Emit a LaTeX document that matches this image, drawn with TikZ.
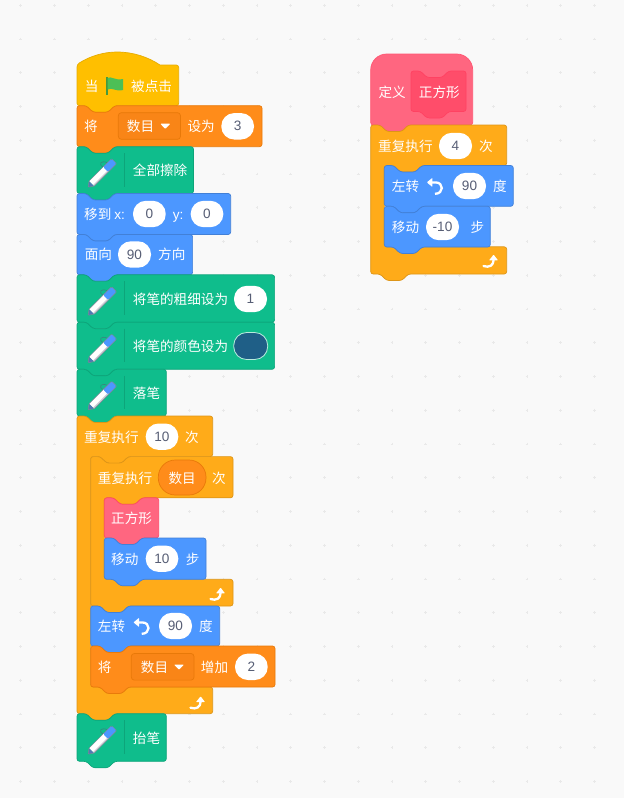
\documentclass[tikz,border=0pt]{standalone}
\usepackage{fontspec}
\setmainfont{Noto Sans CJK SC}
\newfontfamily\lat{Liberation Sans}
\definecolor{bgc}{HTML}{F9F9F9}
\definecolor{dotc}{HTML}{E9E9E9}
\definecolor{hatc}{HTML}{FFBF00}\definecolor{hats}{HTML}{E6AC00}
\definecolor{varc}{HTML}{FF8C1A}\definecolor{vars}{HTML}{DB6E00}\definecolor{vard}{HTML}{F98517}
\definecolor{penc}{HTML}{0FBD8C}\definecolor{pens}{HTML}{0DA57A}
\definecolor{motc}{HTML}{4C97FF}\definecolor{mots}{HTML}{4280D7}
\definecolor{ctlc}{HTML}{FFAB19}\definecolor{ctls}{HTML}{CF8B17}
\definecolor{proc}{HTML}{FF6680}\definecolor{pros}{HTML}{FF3355}\definecolor{prod}{HTML}{FF4D6A}
\definecolor{numc}{HTML}{575E75}
\definecolor{penblue}{HTML}{4C97FF}
\definecolor{flagc}{HTML}{4CBF56}\definecolor{flags}{HTML}{45993D}
\definecolor{swatch}{HTML}{1F5F87}
\newcounter{tn}
\tikzset{
  blk/.style={rounded corners=2.5pt,line width=.7pt,line join=round},
  hattop/.style={blk,draw=hats,fill=hatc},
  varb/.style={blk,draw=vars!60!varc,fill=varc},
  penb/.style={blk,draw=pens,fill=penc},
  motb/.style={blk,draw=mots,fill=motc},
  ctlb/.style={blk,draw=ctls!70!ctlc,fill=ctlc},
  prob/.style={blk,draw=pros!60!proc,fill=proc},
  lab/.style={text=white,inner sep=0pt,anchor=west,text height=10pt,text depth=2.5pt,yshift=-1.6pt,font=\fontsize{13.6}{16}\selectfont},
  num/.style={text=numc,inner sep=0pt,font=\lat\fontsize{13.6}{16}\selectfont},
  icon/.style={draw=white,line width=2.3pt},
  dotm/.style={draw=dotc,line width=.7pt},
}
\newcommand{\topN}[2]{({#1},{#2}) -- ({#1+9.3},{#2}) -- ({#1+16},{#2+6.5}) -- ({#1+31},{#2+6.5}) -- ({#1+37.7},{#2})}
\newcommand{\botN}[2]{-- ({#1+37.7},{#2}) -- ({#1+31},{#2+6.5}) -- ({#1+16},{#2+6.5}) -- ({#1+9.3},{#2})}
\newcommand{\blok}[5]{\draw[#1] \topN{#2}{#3} -- ({#4},{#3}) -- ({#4},{#5}) \botN{#2}{#5} -- ({#2},{#5}) -- cycle;}
\newcommand{\cblok}[8]{\draw[#1] \topN{#2}{#3} -- ({#4},{#3}) -- ({#4},{#5}) -- ({#6+37.7},{#5}) -- ({#6+31},{#5+6.5}) -- ({#6+16},{#5+6.5}) -- ({#6+9.3},{#5}) -- ({#6},{#5}) -- ({#6},{#7}) -- ({#6+9.3},{#7}) -- ({#6+16},{#7+6.5}) -- ({#6+31},{#7+6.5}) -- ({#6+37.7},{#7}) -- ({#4},{#7}) -- ({#4},{#8}) \botN{#2}{#8} -- ({#2},{#8}) -- cycle;}
\newcommand{\lbl}[3]{\stepcounter{tn}\node[lab] (t\thetn) at ({#1},{#2}) {#3};}
\newcommand{\pill}[4]{\fill[white,rounded corners=12.9pt] ({#1},{#3-13.2}) rectangle ({#2},{#3+13.2});\stepcounter{tn}\node[num] (t\thetn) at ({(#1+#2)/2},{#3}) {#4};}
\newcommand{\drop}[5]{\draw[draw=vars!65!varc,fill=vard,rounded corners=3pt,line width=.7pt] ({#1},{#3-13.3}) rectangle ({#2},{#3+13.3});\lbl{#4}{#3}{数目}\fill[white,rounded corners=.8pt] ({#5-5},{#3-2.3}) -- ({#5+5},{#3-2.3}) -- ({#5},{#3+3}) -- cycle;}
\newcommand{\turnl}[2]{\draw[icon] ({#1-3},{#2-3.6}) -- ({#1+.5},{#2-3.6}) .. controls ({#1+9},{#2-3.6}) and ({#1+9},{#2+7.8}) .. ({#1},{#2+7.8});\fill[white,rounded corners=.6pt] ({#1-8.2},{#2-3.6}) -- ({#1-2.6},{#2-8.2}) -- ({#1-2.6},{#2+1}) -- cycle;}
\newcommand{\rept}[2]{\draw[icon,line cap=round] ({#1-6.5},{#2+6}) .. controls ({#1-1},{#2+8}) and ({#1+3.6},{#2+5.5}) .. ({#1+3.6},{#2});\fill[white,rounded corners=.6pt] ({#1-1},{#2+.4}) -- ({#1+8},{#2+.4}) -- ({#1+3.6},{#2-5.4}) -- cycle;}
\newcommand{\penicon}[2]{%
\begin{scope}[shift={({#1+11},{#2+40.5})},x=1pt,y=1pt,rotate=45]
\draw[draw=numc!60!penc,line width=.6pt] (25,3.4) .. controls (23,9.5) and (29,10) .. (31,3.4);
\fill[white] (5,-3.4) -- (26,-3.4) -- (26,3.4) -- (5,3.4) -- cycle;
\fill[numc!30] (5,-3.4) -- (26,-3.4) -- (26,-2) -- (5,-2) -- cycle;
\fill[penblue,rounded corners=1.5pt] (25,-3.6) -- (37,-3.6) -- (37,3.6) -- (25,3.6) -- cycle;
\fill[numc!55!penblue] (0,0) -- (5,-3) -- (5,3) -- cycle;
\draw[numc!75,line width=.5pt,line join=round,rounded corners=1pt] (0,0) -- (5,-3.6) -- (37,-3.6) -- (37,3.6) -- (5,3.6) -- cycle;
\end{scope}
\draw[pens,line width=.8pt] ({#1+47.3},{#2+6.5}) -- ({#1+47.3},{#2+40});}
\begin{document}
\begin{tikzpicture}[x=1pt,y=-1pt]
\useasboundingbox (0,0) rectangle (624,798);
\fill[bgc] (0,0) rectangle (624,798);
\foreach \i in {0,...,17}{\foreach \j in {0,...,23}{
  \pgfmathsetmacro\dx{20.7+33.75*\i}\pgfmathsetmacro\dy{5.3+33.75*\j}
  \draw[dotm] (\dx-1.4,\dy) -- (\dx+1.4,\dy) (\dx,\dy-1.4) -- (\dx,\dy+1.4);
}}
% ---------- left stack ----------
\draw[hattop] (77,105.7) -- (77,64.5) [sharp corners] .. controls (90,56) and (104,52) .. (117,52) .. controls (133,52) and (148,57) .. (160,65) [rounded corners=2.5pt] -- (178.7,65) -- (178.7,105.7) \botN{77}{105.7} -- cycle;
\lbl{84.6}{86}{当}
\fill[flags] (106,77.2) rectangle (107.6,94.6);
\fill[flagc] (107.6,78) .. controls (111,75.5) and (115,81) .. (123,79) -- (123,90) .. controls (116,92) and (112,87) .. (107.6,89.5) -- cycle;
\lbl{131}{86}{被点击}
\blok{varb}{77}{105.7}{262}{146.7}
\lbl{84}{126.5}{将}\drop{118.3}{180.5}{126}{126.7}{165.3}\lbl{187.3}{126.5}{设为}\pill{221.3}{254}{126.3}{3}
\blok{penb}{77}{146.7}{193.5}{193.5}\penicon{77}{146.7}\lbl{132.7}{170}{全部擦除}
\blok{motb}{77}{193.5}{230.7}{234.5}
\stepcounter{tn}\node[lab] (t\thetn) at (84,214) {移到 {\lat x:}};\pill{133}{165.7}{214}{0}
\stepcounter{tn}\node[lab] (t\thetn) at (172.7,214) {\lat y:};\pill{190.7}{223.3}{214}{0}
\blok{motb}{77}{234.5}{192.6}{274.8}
\lbl{84.6}{254.5}{面向}\pill{118}{151}{254.5}{90}\lbl{158}{254.5}{方向}
\blok{penb}{77}{274.8}{274.6}{322.2}\penicon{77}{274.8}\lbl{132.7}{299}{将笔的粗细设为}\pill{234}{267}{299}{1}
\blok{penb}{77}{322.2}{274.6}{369.3}\penicon{77}{322.2}\lbl{132.7}{346}{将笔的颜色设为}
\draw[draw=white!70!penc,fill=swatch,line width=.8pt,rounded corners=13pt] (233.7,332.5) rectangle (267.7,359.5);
\blok{penb}{77}{369.3}{166.3}{416}\penicon{77}{369.3}\lbl{132.7}{393}{落笔}
% outer repeat
\cblok{ctlb}{77}{416}{212.7}{456.6}{90.7}{687}{713.7}
\lbl{84}{437}{重复执行}\pill{145.7}{178.3}{436.7}{10}\lbl{185}{437}{次}
\rept{197}{701.7}
% inner repeat
\cblok{ctlb}{90.7}{456.6}{233}{497.8}{104.3}{579.3}{606}
\lbl{97.7}{478}{重复执行}
\draw[draw=vars!65!varc,fill=varc,line width=.7pt,rounded corners=17pt] (158.3,460) rectangle (206,495);
\stepcounter{tn}\node[lab,anchor=center] (t\thetn) at (182.2,478) {数目};
\lbl{212}{478}{次}
\rept{217}{593}
\blok{prob}{104.3}{497.8}{158.7}{538}\lbl{111}{518}{正方形}
\blok{motb}{104.3}{538}{206}{579.3}\lbl{111}{559}{移动}\pill{145.7}{178.3}{558.7}{10}\lbl{185.7}{559}{步}
\blok{motb}{90.7}{606}{219.7}{646}\lbl{97.7}{626}{左转}\turnl{141.7}{626}\pill{159}{192}{626}{90}\lbl{199}{626}{度}
\blok{varb}{90.7}{646}{275}{687}\lbl{97.7}{667}{将}\drop{131.3}{194}{666.8}{140.7}{179}\lbl{200.7}{667}{增加}\pill{235}{267.7}{666.8}{2}
\blok{penb}{77}{713.7}{166.3}{761.3}\penicon{77}{713.7}\lbl{132.7}{738}{抬笔}
% ---------- right stack ----------
\draw[blk,draw=pros!30!proc,fill=proc] (370.7,125) [rounded corners=16pt] -- (370.7,54) -- (472.7,54) [rounded corners=2.5pt] -- (472.7,125) \botN{370.7}{125} -- cycle;
\lbl{378.3}{92}{定义}
\draw[blk,draw=pros!70!proc,fill=prod] \topN{411}{71} -- (466,71) -- (466,111.5) \botN{411}{111.5} -- (411,111.5) -- cycle;
\lbl{418.7}{92}{正方形}
\cblok{ctlb}{370.7}{125}{506.7}{165.5}{384.3}{246.8}{274}
\lbl{378}{146.5}{重复执行}\pill{439}{472}{146}{4}\lbl{479}{146.5}{次}
\rept{490}{260}
\blok{motb}{384.3}{165.5}{513.3}{206.3}\lbl{391.7}{186}{左转}\turnl{435}{186}\pill{453}{486}{186}{90}\lbl{493}{186}{度}
\blok{motb}{384.3}{206.3}{490.3}{247}\lbl{391.7}{227}{移动}\pill{426}{459}{227}{-10}\lbl{470.5}{227}{步}
\end{tikzpicture}
\end{document}
